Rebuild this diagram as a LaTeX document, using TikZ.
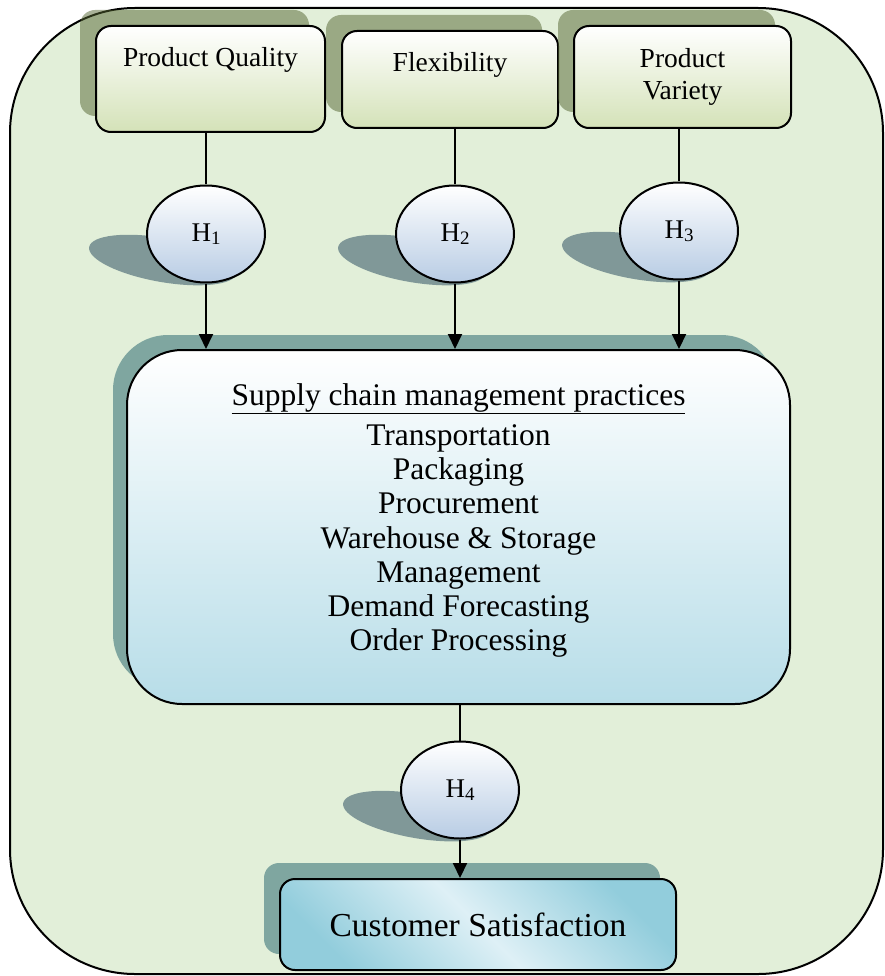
\documentclass[tikz,border=0pt]{standalone}
\usepackage{fontspec}
\setmainfont{Liberation Serif}
\usetikzlibrary{shapes.geometric,shadows,arrows.meta}

\definecolor{bggreen}{RGB}{226,239,217}
\definecolor{boxgreen}{RGB}{212,226,184}
\definecolor{boxshade}{RGB}{84,101,49}
\definecolor{scmblue}{RGB}{183,221,232}
\definecolor{scmshade}{RGB}{127,166,160}
\definecolor{hblue}{RGB}{184,204,228}
\definecolor{hshade}{RGB}{128,152,152}
\definecolor{csblue}{RGB}{146,205,220}
\definecolor{cslight}{RGB}{222,240,246}

\newcommand{\hsub}[1]{{\fontsize{19}{20}\selectfont\raisebox{-3pt}{#1}}}

\tikzset{
  factor/.style={draw, line width=2pt, rounded corners=15pt,
    top color=white, bottom color=boxgreen, inner sep=0pt,
    minimum width=216pt, align=center,
    font=\fontsize{27.5}{32}\selectfont,
    general shadow={fill=boxshade, opacity=.5,
      shadow xshift=-16pt, shadow yshift=16pt}},
  hyp/.style={ellipse, draw, line width=2pt, top color=white,
    bottom color=hblue, minimum width=118pt, minimum height=97pt,
    inner sep=0pt, font=\fontsize{27}{30}\selectfont},
  scmbox/.style={draw, line width=2pt, rounded corners=55pt,
    top color=white, bottom color=scmblue, minimum width=663pt,
    minimum height=354pt, align=center,
    font=\fontsize{31.5}{34.2}\selectfont,
    general shadow={fill=scmshade, shadow xshift=-14pt, shadow yshift=15pt}},
  csbox/.style={draw, line width=2pt, rounded corners=15pt,
    left color=csblue, right color=csblue, middle color=cslight,
    shading angle=135, minimum width=396pt, minimum height=91pt,
    font=\fontsize{33.5}{38}\selectfont,
    general shadow={fill=scmshade, shadow xshift=-16pt, shadow yshift=16pt}},
  link/.style={line width=2pt},
  arrow/.style={line width=2pt, -{Triangle[length=15pt,width=14pt]}}
}

\begin{document}
\begin{tikzpicture}[x=1pt,y=1pt]
\useasboundingbox (0,0) rectangle (885,-976);

% frame
\draw[line width=2pt, fill=bggreen, rounded corners=125pt]
  (10,-8) rectangle (883,-974);

% factors
\node[factor, minimum width=229pt, text height=41pt, text depth=65pt]
  (box1) at (210.5,-79) {Product Quality};
\node[factor, text height=41pt, text depth=56pt]
  (box2) at (450,-79.5) {Flexibility};
\node[factor, minimum width=217pt, minimum height=102pt]
  (box3) at (682.5,-77) {Product\\ Variety};

% hypotheses with their shadows
\foreach \h/\x/\y in {1/206/234, 2/455/234, 3/679/231, 4/460/790}
{
\coordinate (c\h) at (\x,-\y);
\coordinate (s\h) at (\x-43,-\y-26);
\fill[hshade, rotate=-10] (s\h) ellipse (75pt and 22pt);
\node[hyp] (h\h) at (c\h) {H\hsub{\h}};
}

% practices
\node[scmbox] (scm) at (458.5,-527)
  {\underline{Supply chain management practices}\\[6pt]
   Transportation\\ Packaging\\ Procurement\\ Warehouse \& Storage\\
   Management\\ Demand Forecasting\\ Order Processing\rule[-20pt]{0pt}{1pt}};

% outcome
\node[csbox] (cs) at (478,-924.5) {Customer Satisfaction};

% connectors
\foreach \b/\h in {box1/h1, box2/h2, box3/h3}
{
\draw[link] (\h.north |- \b.south) -- (\h.north);
\draw[arrow] (\h.south) -- (\h.south |- scm.north);
}
\draw[link] (h4.north |- scm.south) -- (h4.north);
\draw[arrow] (h4.south) -- (h4.south |- cs.north);

\end{tikzpicture}
\end{document}
